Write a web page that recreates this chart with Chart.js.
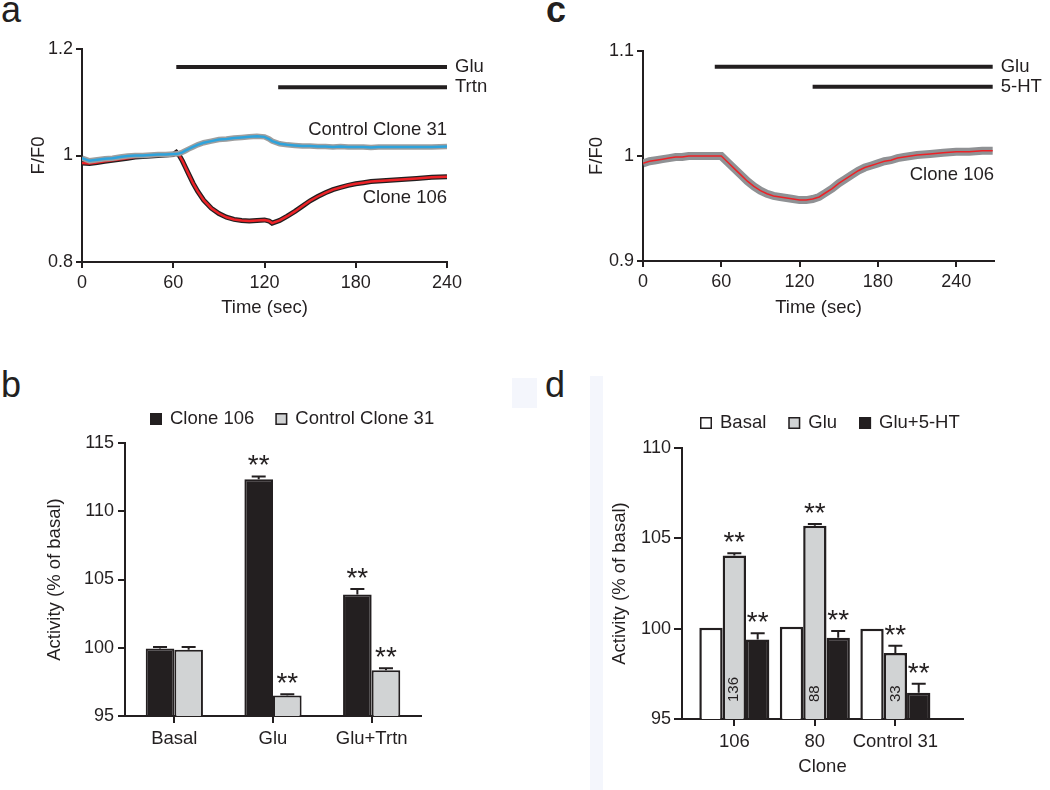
<!DOCTYPE html>
<html>
<head>
<meta charset="utf-8">
<script src="https://cdn.jsdelivr.net/npm/chart.js@4.4.1/dist/chart.umd.min.js"></script>
<style>
  body { margin: 0; background: #fff; width: 1050px; height: 790px; position: relative; overflow: hidden;
         font-family: "Liberation Sans", Arial, sans-serif; color: #231f20; }
  .box { position: absolute; }
  .letter { position: absolute; font-size: 36px; line-height: 1; }
  .smudge { position: absolute; background: #f4f6fc; }
</style>
</head>
<body>
<div class="smudge" style="left:512px;top:378px;width:25px;height:30px"></div>
<div class="smudge" style="left:590px;top:376px;width:13px;height:414px"></div>

<div class="letter" style="left:1px;top:-8px">a</div>
<div class="letter" style="left:546px;top:-8px;font-weight:bold">c</div>
<div class="letter" style="left:1px;top:367px">b</div>
<div class="letter" style="left:545px;top:367px">d</div>

<div class="box" style="left:0;top:0"><canvas id="chartA" width="520" height="330"></canvas></div>
<div class="box" style="left:520px;top:0"><canvas id="chartC" width="530" height="330"></canvas></div>
<div class="box" style="left:0;top:380px"><canvas id="chartB" width="520" height="410"></canvas></div>
<div class="box" style="left:520px;top:380px"><canvas id="chartD" width="530" height="410"></canvas></div>

<script>
// ---- panel a: F/F0 traces
const timeA = [0, 5, 10, 15, 20, 25, 30, 35, 40, 45, 50, 55, 60, 62, 64, 66, 68, 70, 73, 76,
  80, 85, 90, 95, 100, 105, 110, 115, 120, 123, 125, 130, 135, 140, 145, 150, 155, 160, 165, 170,
  175, 180, 185, 190, 195, 200, 210, 220, 230, 240];
const control31A = [0.995, 0.990, 0.992, 0.994, 0.995, 0.997, 0.999, 1.000, 1.000, 1.001, 1.002, 1.002, 1.003,
  1.003, 1.004, 1.006, 1.009, 1.012, 1.016, 1.020,
  1.024, 1.027, 1.030, 1.031, 1.033, 1.034, 1.035, 1.036, 1.035, 1.031,
  1.027, 1.022, 1.020, 1.019, 1.018, 1.018, 1.017, 1.017, 1.016, 1.017, 1.016, 1.016, 1.016, 1.015, 1.016, 1.016,
  1.016, 1.016, 1.016, 1.017];
const clone106A = [0.986, 0.985, 0.987, 0.989, 0.991, 0.993, 0.995, 0.997, 0.998, 0.999, 1.000, 1.001, 1.002,
  1.006, 1.000, 0.990, 0.978, 0.966, 0.948, 0.933,
  0.916, 0.901, 0.891, 0.884, 0.880, 0.878, 0.877, 0.878, 0.879, 0.877,
  0.873, 0.878, 0.886, 0.895, 0.905, 0.915, 0.923, 0.930, 0.936, 0.940, 0.944, 0.947, 0.949, 0.951, 0.952, 0.953,
  0.955, 0.957, 0.959, 0.960];
const drugsA = ["Glu", "Trtn"];
const drugStartA = [62, 129];
const drugEndA = [240, 240];

// ---- panel c: F/F0 trace
const timeC = [0, 5, 10, 15, 20, 25, 30, 35, 40, 45, 50, 55, 60, 65, 70, 75, 80, 85, 90, 95, 100,
  105, 110, 115, 120, 125, 130, 135, 140, 145, 150, 155, 160, 165, 170, 175, 180, 185, 190, 195, 200,
  210, 220, 230, 240, 250, 260, 268];
const clone106C = [0.993, 0.995, 0.996, 0.997, 0.998, 0.999, 0.999, 1.000, 1.000, 1.000, 1.000, 1.000, 1.000,
  0.994, 0.988, 0.982, 0.976, 0.971, 0.967, 0.964, 0.962, 0.961, 0.960, 0.959, 0.958, 0.958, 0.959,
  0.961, 0.965, 0.969, 0.974, 0.978, 0.982, 0.986, 0.989, 0.991, 0.993, 0.995, 0.996, 0.998, 0.999,
  1.001, 1.002, 1.003, 1.004, 1.004, 1.005, 1.005];
const drugsC = ["Glu", "5-HT"];
const drugStartC = [55, 130];
const drugEndC = [268, 268];

// ---- panel b: activity bars
const conditionsB = ["Basal", "Glu", "Glu+Trtn"];
const clone106B = [99.95, 112.35, 103.9];
const clone106ErrB = [0.1, 0.2, 0.4];
const clone106StarsB = [false, true, true];
const control31B = [99.85, 96.5, 98.35];
const control31ErrB = [0.2, 0.1, 0.15];
const control31StarsB = [false, true, true];

// ---- panel d: activity bars per clone
const clonesD = ["106", "80", "Control 31"];
const basalD = [100.05, 100.1, 100.0];
const gluD = [104.05, 105.7, 98.65];
const gluErrD = [0.12, 0.1, 0.4];
const glu5htD = [99.4, 99.5, 96.45];
const glu5htErrD = [0.35, 0.37, 0.5];
const cellCountsD = [136, 88, 33];

const ink = "#231f20";
const fontFamily = '"Liberation Sans", Arial, sans-serif';

Chart.defaults.font.family = fontFamily;
Chart.defaults.font.size = 18;
Chart.defaults.color = ink;
Chart.defaults.animation = false;
Chart.defaults.plugins.legend.display = false;
Chart.defaults.plugins.tooltip.enabled = false;

function points(xs, ys) {
  return xs.map((x, i) => ({ x: x, y: ys[i] }));
}

// 1.0 -> "1", 0.8 -> "0.8"
function plainNumber(v) {
  return String(Math.round(v * 100) / 100);
}

function axis(extra) {
  return Object.assign({
    border: { color: ink, width: 2 },
    grid: { drawOnChartArea: false, drawTicks: true, tickLength: 6, color: ink, lineWidth: 2, offset: false },
    ticks: { color: ink, font: { size: 18 }, padding: 3 },
  }, extra);
}

// text next to drug bars and traces
const notesPlugin = {
  id: "notes",
  afterDraw(chart, args, opts) {
    const ctx = chart.ctx;
    const xs = chart.scales.x;
    const ys = chart.scales.y;
    ctx.save();
    ctx.fillStyle = ink;
    ctx.font = "18.5px " + fontFamily;
    ctx.textBaseline = "middle";
    (opts.items || []).forEach((n) => {
      ctx.textAlign = n.align || "left";
      ctx.fillText(n.text, xs.getPixelForValue(n.x), ys.getPixelForValue(n.y));
    });
    chart.data.datasets.forEach((ds) => {
      if (!ds.endLabel) return;
      const last = ds.data[ds.data.length - 1];
      ctx.textAlign = "left";
      ctx.fillText(ds.label, xs.getPixelForValue(last.x) + 8, ys.getPixelForValue(last.y));
    });
    ctx.restore();
  },
};

// error bars, asterisks and the n inside bars
const barMarksPlugin = {
  id: "barMarks",
  afterDatasetsDraw(chart) {
    const ctx = chart.ctx;
    const ys = chart.scales.y;
    ctx.save();
    chart.data.datasets.forEach((ds, di) => {
      const meta = chart.getDatasetMeta(di);
      meta.data.forEach((bar, i) => {
        const raw = ds.data[i];
        const v = typeof raw === "object" ? raw.y : raw;
        const e = ds.errors ? ds.errors[i] : 0;
        const top = ys.getPixelForValue(v + e);
        if (e > 0) {
          ctx.strokeStyle = ink;
          ctx.lineWidth = 2;
          ctx.beginPath();
          ctx.moveTo(bar.x, bar.y);
          ctx.lineTo(bar.x, top);
          ctx.moveTo(bar.x - 7, top);
          ctx.lineTo(bar.x + 7, top);
          ctx.stroke();
        }
        if (ds.stars && ds.stars[i]) {
          ctx.fillStyle = ink;
          ctx.font = "28px " + fontFamily;
          ctx.textAlign = "center";
          ctx.textBaseline = "alphabetic";
          ctx.fillText("**", bar.x, top - 2);
        }
        if (ds.counts) {
          ctx.save();
          ctx.translate(bar.x, ys.getPixelForValue(ys.min) - 17);
          ctx.rotate(-Math.PI / 2);
          ctx.fillStyle = ink;
          ctx.font = "15px " + fontFamily;
          ctx.textAlign = "left";
          ctx.textBaseline = "middle";
          ctx.fillText(String(ds.counts[i]), 0, 0);
          ctx.restore();
        }
      });
    });
    ctx.restore();
  },
};

// square legend above the bar charts
const boxLegendPlugin = {
  id: "boxLegend",
  afterDraw(chart, args, opts) {
    const ctx = chart.ctx;
    let x = opts.x;
    ctx.save();
    ctx.font = "18.5px " + fontFamily;
    ctx.textBaseline = "middle";
    ctx.textAlign = "left";
    chart.data.datasets.forEach((ds) => {
      ctx.fillStyle = ds.backgroundColor;
      ctx.fillRect(x, opts.y - 6, 12, 12);
      ctx.strokeStyle = ink;
      ctx.lineWidth = 1.5;
      ctx.strokeRect(x + 0.75, opts.y - 5.25, 10.5, 10.5);
      ctx.fillStyle = ink;
      ctx.fillText(ds.label, x + 20, opts.y);
      x += 20 + ctx.measureText(ds.label).width + opts.spacing;
    });
    ctx.restore();
  },
};

function drugDatasets(names, starts, ends, levels) {
  return names.map((name, i) => ({
    label: name,
    data: points([starts[i], ends[i]], [levels[i], levels[i]]),
    borderColor: ink,
    borderWidth: 4,
    endLabel: true,
    order: 0,
  }));
}

// panel a
new Chart(document.getElementById("chartA"), {
  type: "line",
  data: {
    datasets: [
      { label: "Control Clone 31", data: points(timeA, control31A), borderColor: "#2ea3dc", borderWidth: 2.5, order: 1 },
      { label: "sem31", data: points(timeA, control31A), borderColor: "#9e9e9e", borderWidth: 5.5, order: 2 },
      { label: "Clone 106", data: points(timeA, clone106A), borderColor: "#ec2227", borderWidth: 2.5, order: 3 },
      { label: "sem106", data: points(timeA, clone106A), borderColor: ink, borderWidth: 5, order: 4 },
    ].concat(drugDatasets(drugsA, drugStartA, drugEndA, [1.166, 1.128])),
  },
  options: {
    responsive: false,
    layout: { padding: { top: 49, right: 73, left: 0, bottom: 0 } },
    elements: { point: { radius: 0 }, line: { tension: 0, borderCapStyle: "butt" } },
    scales: {
      x: axis({
        type: "linear", min: 0, max: 240,
        ticks: { stepSize: 60, includeBounds: false, color: ink, font: { size: 18 }, padding: 4 },
        title: { display: true, text: "Time (sec)", color: ink, font: { size: 18.5 }, padding: { top: 0, bottom: 11 } },
        afterFit: (s) => { s.height = 68; },
      }),
      y: axis({
        min: 0.8, max: 1.2,
        ticks: { stepSize: 0.2, color: ink, font: { size: 18 }, padding: 3, callback: plainNumber },
        title: { display: true, text: "F/F0", color: ink, font: { size: 18.5 }, padding: { top: 28, bottom: 0 } },
        afterFit: (s) => { s.width = 82; },
      }),
    },
    plugins: {
      notes: {
        items: [
          { text: "Control Clone 31", x: 240, y: 1.048, align: "right" },
          { text: "Clone 106", x: 240, y: 0.92, align: "right" },
        ],
      },
    },
  },
  plugins: [notesPlugin],
});

// panel c
new Chart(document.getElementById("chartC"), {
  type: "line",
  data: {
    datasets: [
      { label: "Clone 106", data: points(timeC, clone106C), borderColor: "#ec2227", borderWidth: 1.5, order: 1 },
      { label: "sem106", data: points(timeC, clone106C), borderColor: "#8f9194", borderWidth: 8, order: 2 },
    ].concat(drugDatasets(drugsC, drugStartC, drugEndC, [1.085, 1.066])),
  },
  options: {
    responsive: false,
    layout: { padding: { top: 51, right: 56, left: 0, bottom: 0 } },
    elements: { point: { radius: 0 }, line: { tension: 0, borderCapStyle: "butt" } },
    scales: {
      x: axis({
        type: "linear", min: 0, max: 269,
        ticks: { stepSize: 60, includeBounds: false, color: ink, font: { size: 18 }, padding: 4 },
        title: { display: true, text: "Time (sec)", color: ink, font: { size: 18.5 }, padding: { top: 0, bottom: 11 } },
        afterFit: (s) => { s.height = 69; },
      }),
      y: axis({
        min: 0.9, max: 1.1,
        ticks: { stepSize: 0.1, color: ink, font: { size: 18 }, padding: 3, callback: plainNumber },
        title: { display: true, text: "F/F0", color: ink, font: { size: 18.5 }, padding: { top: 66, bottom: 0 } },
        afterFit: (s) => { s.width = 123; },
      }),
    },
    plugins: {
      notes: { items: [{ text: "Clone 106", x: 269, y: 0.982, align: "right" }] },
    },
  },
  plugins: [notesPlugin],
});

// panel b
new Chart(document.getElementById("chartB"), {
  type: "bar",
  data: {
    labels: conditionsB,
    datasets: [
      { label: "Clone 106", data: clone106B, errors: clone106ErrB, stars: clone106StarsB,
        backgroundColor: ink, borderColor: ink, borderWidth: 2 },
      { label: "Control Clone 31", data: control31B, errors: control31ErrB, stars: control31StarsB,
        backgroundColor: "#d1d3d4", borderColor: ink, borderWidth: 2 },
    ],
  },
  options: {
    responsive: false,
    layout: { padding: { top: 63, right: 99, left: 0, bottom: 0 } },
    datasets: { bar: { categoryPercentage: 0.58, barPercentage: 1, borderSkipped: "bottom" } },
    scales: {
      x: axis({
        grid: { drawOnChartArea: false, drawTicks: true, tickLength: 7, color: ink, lineWidth: 2, offset: false },
        ticks: { color: ink, font: { size: 18.5 }, padding: 5 },
        afterFit: (s) => { s.height = 74; },
      }),
      y: axis({
        min: 95, max: 115,
        grid: { drawOnChartArea: false, drawTicks: true, tickLength: 7, color: ink, lineWidth: 2 },
        ticks: { stepSize: 5, color: ink, font: { size: 18 }, padding: 4 },
        title: { display: true, text: "Activity (% of basal)", color: ink, font: { size: 18.5 }, padding: { top: 44, bottom: 0 } },
        afterFit: (s) => { s.width = 125; },
      }),
    },
    plugins: { boxLegend: { x: 150, y: 39, spacing: 21 } },
  },
  plugins: [barMarksPlugin, boxLegendPlugin],
});

// panel d
new Chart(document.getElementById("chartD"), {
  type: "bar",
  data: {
    datasets: [
      { label: "Basal", data: points([0, 1, 2], basalD), backgroundColor: "#ffffff", borderColor: ink, borderWidth: 2.5 },
      { label: "Glu", data: points([0, 1, 2], gluD), errors: gluErrD, stars: [true, true, true], counts: cellCountsD,
        backgroundColor: "#d1d3d4", borderColor: ink, borderWidth: 2.5 },
      { label: "Glu+5-HT", data: points([0, 1, 2], glu5htD), errors: glu5htErrD, stars: [true, true, true],
        backgroundColor: ink, borderColor: ink, borderWidth: 2.5 },
    ],
  },
  options: {
    responsive: false,
    layout: { padding: { top: 68, right: 87, left: 0, bottom: 0 } },
    datasets: { bar: { categoryPercentage: 0.87, barPercentage: 1, borderSkipped: "bottom" } },
    scales: {
      x: axis({
        type: "linear", min: -0.65, max: 2.84, offset: false,
        grid: { drawOnChartArea: false, drawTicks: true, tickLength: 7, color: ink, lineWidth: 2, offset: false },
        afterBuildTicks: (s) => { s.ticks = clonesD.map((c, i) => ({ value: i })); },
        ticks: { color: ink, font: { size: 18.5 }, padding: 5, callback: (v) => clonesD[v] },
        title: { display: true, text: "Clone", color: ink, font: { size: 18.5 }, padding: { top: 0, bottom: 12 } },
        afterFit: (s) => { s.height = 71; },
      }),
      y: axis({
        min: 95, max: 110,
        grid: { drawOnChartArea: false, drawTicks: true, tickLength: 8, color: ink, lineWidth: 2 },
        ticks: { stepSize: 5, color: ink, font: { size: 18 }, padding: 3 },
        title: { display: true, text: "Activity (% of basal)", color: ink, font: { size: 18.5 }, padding: { top: 89, bottom: 0 } },
        afterFit: (s) => { s.width = 162; },
      }),
    },
    plugins: { boxLegend: { x: 180, y: 43, spacing: 22 } },
  },
  plugins: [barMarksPlugin, boxLegendPlugin],
});
</script>
</body>
</html>
